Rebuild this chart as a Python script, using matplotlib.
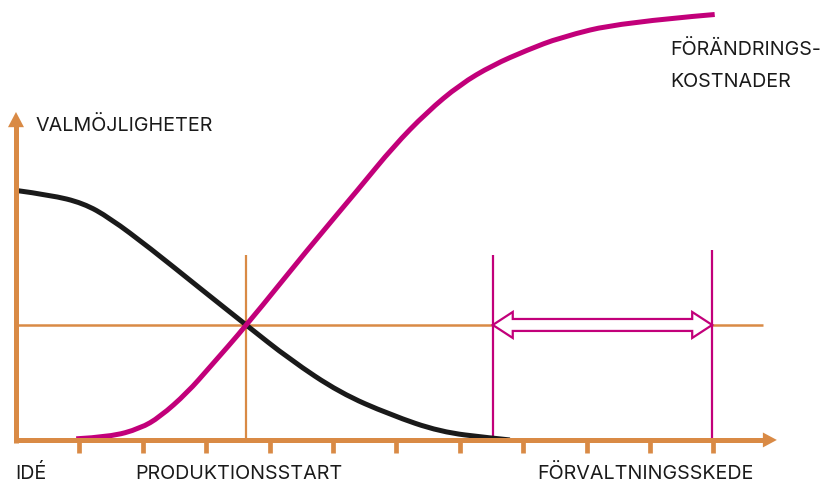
import matplotlib.pyplot as plt
from matplotlib.patches import Polygon, PathPatch
from matplotlib.path import Path

# phases on the time axis (tick units) and levels (1.0 = crossing level)
tick_pos = list(range(1, 12))
prod_start = 3.63
mgmt_start = 7.52
mgmt_end = 10.98

# VALMÖJLIGHETER (black)
opt_x = [0.0, 0.54, 1.06, 1.48, 2.11, 2.90, 3.63, 4.32, 5.11, 5.90, 6.69, 7.48, 7.79]
opt_y = [2.17, 2.13, 2.06, 1.93, 1.67, 1.32, 1.00, 0.70, 0.41, 0.22, 0.07, 0.017, 0.0]

# FÖRÄNDRINGSKOSTNADER (magenta)
cost_x = [0.95, 1.48, 1.96, 2.27, 2.70, 3.06, 3.64, 4.59, 5.43, 5.95, 6.48, 7.00,
          7.52, 8.06, 8.58, 9.53, 11.02]
cost_y = [0.01, 0.026, 0.10, 0.20, 0.41, 0.635, 1.00, 1.65, 2.20, 2.55, 2.85, 3.09,
          3.26, 3.39, 3.50, 3.63, 3.70]

orange = '#D98A45'
magenta = '#C2007A'
black = '#1a1a1a'

plt.rcParams['font.family'] = ['Inter', 'DejaVu Sans']


def smooth_path(xs, ys):
    # quadratic segments through midpoints, the read points act as controls
    pts = list(zip(xs, ys))
    verts = [pts[0]]
    codes = [Path.MOVETO]
    for i in range(1, len(pts) - 1):
        mid = ((pts[i][0] + pts[i + 1][0]) / 2, (pts[i][1] + pts[i + 1][1]) / 2)
        if i == len(pts) - 2:
            mid = pts[-1]
        verts += [pts[i], mid]
        codes += [Path.CURVE3, Path.CURVE3]
    return Path(verts, codes)


fig = plt.figure(figsize=(8.32, 4.84), dpi=100)
ax = fig.add_axes([0, 0, 1, 1])
ax.set_xlim(-0.252, 12.87)
ax.set_ylim(-0.383, 3.826)
ax.axis('off')

# guide lines
ax.plot([0, 11.78], [1.0, 1.0], color=orange, lw=1.8, solid_capstyle='butt', zorder=1)
ax.plot([prod_start, prod_start], [0, 1.61], color=orange, lw=1.6, solid_capstyle='butt', zorder=1)
ax.plot([mgmt_start, mgmt_start], [0, 1.61], color=magenta, lw=1.6, solid_capstyle='butt', zorder=2)
ax.plot([mgmt_end, mgmt_end], [0, 1.65], color=magenta, lw=1.6, solid_capstyle='butt', zorder=2)

# hollow double arrow between the magenta lines
hl, hh, sh = 0.315, 0.113, 0.052
x0, x1, yc = mgmt_start, mgmt_end, 1.0
verts = [(x0, yc), (x0 + hl, yc + hh), (x0 + hl, yc + sh), (x1 - hl, yc + sh),
         (x1 - hl, yc + hh), (x1, yc), (x1 - hl, yc - hh), (x1 - hl, yc - sh),
         (x0 + hl, yc - sh), (x0 + hl, yc - hh)]
ax.add_patch(Polygon(verts, closed=True, facecolor='white', edgecolor=magenta,
                     lw=1.6, joinstyle='miter', zorder=3))

# curves
ax.add_patch(PathPatch(smooth_path(opt_x, opt_y), fill=False, edgecolor=black,
                       lw=3.6, capstyle='butt', zorder=4))
ax.add_patch(PathPatch(smooth_path(cost_x, cost_y), fill=False, edgecolor=magenta,
                       lw=3.6, capstyle='butt', zorder=5))

# axes with arrows and ticks
ax.plot([0, 11.8], [0, 0], color=orange, lw=3.6, solid_capstyle='butt', zorder=6)
ax.plot([0, 0], [-0.025, 2.73], color=orange, lw=3.6, solid_capstyle='butt', zorder=6)
ax.add_patch(Polygon([(11.78, 0.065), (12.0, 0), (11.78, -0.065)], closed=True,
                     facecolor=orange, edgecolor='none', zorder=6))
ax.add_patch(Polygon([(-0.126, 2.72), (0, 2.852), (0.126, 2.72)], closed=True,
                     facecolor=orange, edgecolor='none', zorder=6))
for t in tick_pos:
    ax.plot([t, t], [0, -0.113], color=orange, lw=3.4, solid_capstyle='butt', zorder=6)

# labels
fs = 14.2
ax.text(0.315, 2.687, 'VALMÖJLIGHETER', fontsize=fs, color=black, va='baseline')
ax.text(-0.016, -0.339, 'IDÉ', fontsize=fs, color=black, va='baseline')
ax.text(1.877, -0.339, 'PRODUKTIONSSTART', fontsize=fs, color=black, va='baseline')
ax.text(8.218, -0.339, 'FÖRVALTNINGSSKEDE', fontsize=fs, color=black, va='baseline')
ax.text(10.315, 3.348, 'FÖRÄNDRINGS-', fontsize=fs, color=black, va='baseline')
ax.text(10.315, 3.070, 'KOSTNADER', fontsize=fs, color=black, va='baseline')

fig.savefig('out.png', dpi=100)
